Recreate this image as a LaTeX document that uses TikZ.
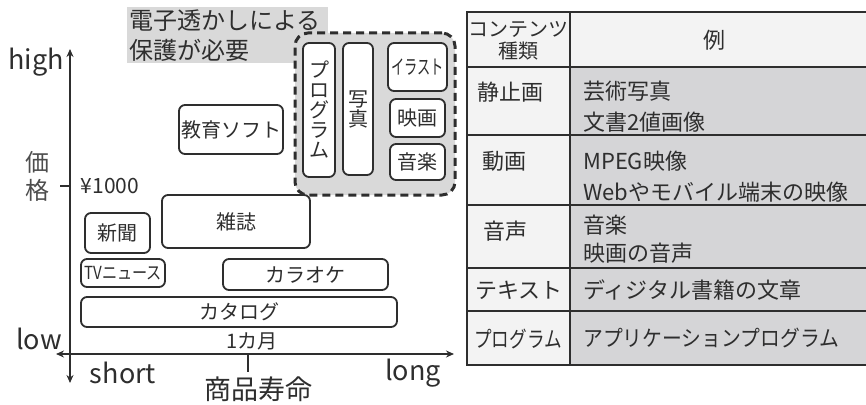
\documentclass[tikz,border=0pt]{standalone}
\usepackage{fontspec}
\usepackage{graphicx}
\setmainfont{Noto Sans CJK JP}
\usetikzlibrary{arrows.meta}
\definecolor{ink}{HTML}{2E2E2E}
\definecolor{grp}{HTML}{D9D9D9}
\definecolor{cellA}{HTML}{F3F3F3}
\definecolor{cellB}{HTML}{D5D5D7}
\begin{document}
\begin{tikzpicture}[x=1pt,y=-1pt,
  box/.style={draw=ink, line width=1.8pt, rounded corners=6pt, fill=white, inner sep=0pt, text=ink, font=\fontsize{20}{20}\selectfont, align=center},
  lbl/.style={inner sep=0pt, text=ink},
  big/.style={lbl, font=\fontsize{27}{27}\selectfont},
  mid/.style={lbl, font=\fontsize{20}{20}\selectfont},
  axline/.style={draw=ink, line width=2pt, {Stealth[length=8pt,width=7pt]}-{Stealth[length=8pt,width=7pt]}},
  tick/.style={draw=ink, line width=2pt},
  tline/.style={draw=ink, line width=1.5pt},
  tcell/.style={lbl, anchor=west, font=\fontsize{22}{22}\selectfont},
  thead/.style={lbl, font=\fontsize{20}{22}\selectfont, align=center}
]
\useasboundingbox (0,0) rectangle (866,404);

% ---------- watermark label ----------
\fill[grp] (127,7) rectangle (328,63);
\node[lbl, anchor=west, font=\fontsize{24}{30}\selectfont, align=left] (wm) at (129,36) {電子透かしによる\\保護が必要};

% ---------- dashed group ----------
\node[draw=ink, line width=3pt, dash pattern=on 8pt off 5pt, rounded corners=13pt, fill=grp, minimum width=160pt, minimum height=162pt, inner sep=0pt] (grpbox) at (375,114) {};

\node[box, minimum width=32pt, minimum height=134pt] (prog) at (319,110) {プ\\ロ\\グ\\ラ\\ム};
\node[box, minimum width=30pt, minimum height=132pt] (photo) at (358,109) {写\\真};
\node[box, minimum width=59pt, minimum height=48pt] (illus) at (417.5,67) {\scalebox{0.66}[1]{イラスト}};
\node[box, minimum width=55pt, minimum height=38pt] (movie) at (417.5,118) {映画};
\node[box, minimum width=55pt, minimum height=36pt] (music) at (417.5,162) {音楽};

% ---------- other boxes ----------
\node[box, minimum width=104pt, minimum height=49pt] (edu) at (231,129.5) {教育ソフト};
\node[box, minimum width=65pt, minimum height=40pt] (news) at (117.5,233) {新聞};
\node[box, minimum width=148pt, minimum height=53pt] (mag) at (236,221.5) {雑誌};
\node[box, minimum width=84pt, minimum height=28pt, font=\fontsize{18}{18}\selectfont] (tv) at (123,273) {\scalebox{0.84}[1]{TVニュース}};
\node[box, minimum width=165pt, minimum height=31pt] (kara) at (305.5,274.5) {カラオケ};
\node[box, minimum width=316pt, minimum height=30pt] (cat) at (239,312) {カタログ};

% ---------- axes ----------
\coordinate (ytop) at (70,49);
\coordinate (ybot) at (70,383);
\coordinate (xl) at (56,354);
\coordinate (xr) at (454,354);
\draw[axline] (ybot) -- (ytop);
\draw[axline] (xl) -- (xr);
\coordinate (t1a) at (60,186);
\coordinate (t1b) at (70,186);
\draw[tick] (t1a) -- (t1b);
\coordinate (t2a) at (248,354);
\coordinate (t2b) at (248,372);
\draw[tick] (t2a) -- (t2b);

\node[big] (high) at (36,62) {high};
\node[big] (low) at (39,339) {low};
\node[big] (short) at (123,373) {short};
\node[big] (long) at (413,373) {long};
\node[big] (life) at (258,389) {商品寿命};
\node[mid] (month) at (252,341) {1カ月};
\node[lbl, font=\fontsize{21}{21}\selectfont] (yen) at (110,186) {¥1000};
\node[lbl, font=\fontsize{24}{28}\selectfont, align=center, text=ink!85] (price) at (37,176) {価\\格};

% ---------- table ----------
\fill[cellA] (467,12) rectangle (866,67);
\fill[cellA] (467,67) rectangle (570,365);
\fill[cellB] (570,67) rectangle (866,365);
\draw[tline] (866,12) -- (467,12) -- (467,365) -- (866,365);
\draw[tline] (570,12) -- (570,365);
\foreach \yy in {67,135,205,268,311} {\draw[tline] (467,\yy) -- (866,\yy);}

\node[thead] (h1) at (518,41) {コンテンツ\\種類};
\node[lbl, font=\fontsize{22}{22}\selectfont] (h2) at (714,40) {例};

\node[tcell] (c1) at (477,92) {静止画};
\node[tcell] (c2) at (482,161) {動画};
\node[tcell] (c3) at (483,231) {音声};
\node[tcell] (c4) at (475,290) {テキスト};
\node[tcell] (c5) at (474,339) {\scalebox{0.8}[1]{プログラム}};

\node[tcell] (e1a) at (583,91) {芸術写真};
\node[tcell] (e1b) at (583,122) {文書2値画像};
\node[tcell] (e2a) at (583,161) {MPEG映像};
\node[tcell] (e2b) at (583,192) {Webやモバイル端末の映像};
\node[tcell] (e3a) at (583,225) {音楽};
\node[tcell] (e3b) at (583,253) {映画の音声};
\node[tcell] (e4) at (583,290) {ディジタル書籍の文章};
\node[tcell] (e5) at (583,338) {\scalebox{0.9}[1]{アプリケーションプログラム}};
\end{tikzpicture}
\end{document}
